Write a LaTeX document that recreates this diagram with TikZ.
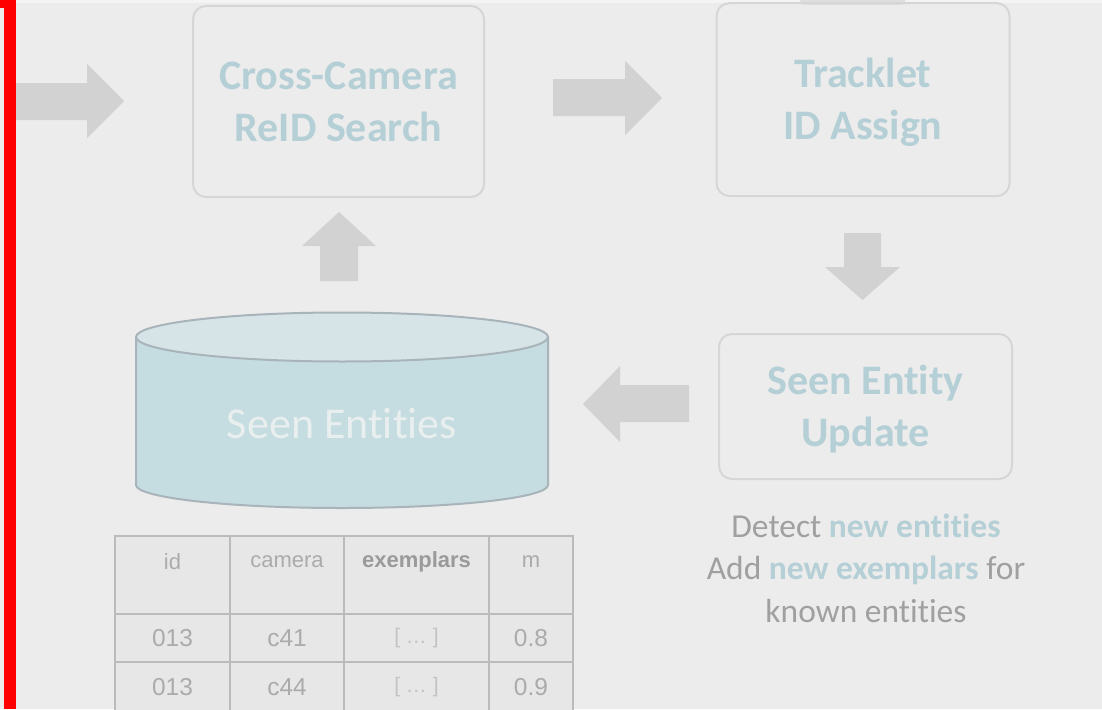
\documentclass[tikz,border=0pt]{standalone}
\usepackage{fontspec}
\setmainfont{Carlito}[Ligatures=NoCommon]
\newfontfamily\tablefont{Liberation Sans}

\definecolor{pagebg}{HTML}{ECECEC}
\definecolor{topband}{HTML}{F4F4F4}
\definecolor{boxline}{HTML}{D6D6D6}
\definecolor{titleteal}{HTML}{B4CFD5}
\definecolor{arrowgray}{HTML}{D2D2D2}
\definecolor{cylside}{HTML}{C5DDE1}
\definecolor{cyltop}{HTML}{D6E3E7}
\definecolor{cylline}{HTML}{A8B4B9}
\definecolor{cyltext}{HTML}{E9EEEF}
\definecolor{notegray}{HTML}{A0A0A0}
\definecolor{tablefill}{HTML}{E7E7E7}
\definecolor{tablegrid}{HTML}{BBBBBB}
\definecolor{celltext}{HTML}{ABABAB}
\definecolor{headbold}{HTML}{9A9A9A}
\definecolor{celllight}{HTML}{C3C3C3}
\definecolor{barred}{HTML}{FF0000}
\definecolor{faintshape}{HTML}{DEDEDE}

\newcommand{\hl}[1]{{\bfseries\color{titleteal}#1}}

\tikzset{
  stepbox/.style={draw=boxline, line width=2pt, rounded corners=13pt,
    align=center, inner sep=0pt, text=titleteal,
    font=\fontsize{42}{52}\selectfont\bfseries,
    text height=79pt, text depth=0pt},
  blockarrow/.style={fill=arrowgray},
  dbtext/.style={text=cyltext, font=\fontsize{44}{52}\selectfont,
    inner sep=0pt, text height=28.3pt, text depth=0pt},
  notetext/.style={align=center, inner sep=0pt, text=notegray,
    font=\fontsize{33.5}{42.5}\selectfont,
    text height=107pt, text depth=0pt},
  headcell/.style={inner sep=0pt, text=celltext,
    font=\tablefont\fontsize{22}{26}\selectfont},
  datacell/.style={inner sep=0pt, text=celltext,
    font=\tablefont\fontsize{24.5}{28}\selectfont},
}

\begin{document}
\begin{tikzpicture}[x=1pt, y=-1pt]
\useasboundingbox (0,0) rectangle (1102,709);
\fill[pagebg] (0,0) rectangle (1102,709);
\fill[topband] (16,0) rectangle (1102,3);
% edge of a shape running off the top
\fill[faintshape, rounded corners=4pt] (800,-8) rectangle (905,5);

% processing steps
\node[stepbox, minimum width=291pt, minimum height=191pt] (reid) at (338.5,101.5) {Cross-Camera\\ReID Search};
\node[stepbox, minimum width=293pt, minimum height=193pt] (assign) at (863,99.6) {Tracklet\\ID Assign};
\node[stepbox, minimum width=293pt, minimum height=145pt] (update) at (865.5,406.5) {Seen Entity\\Update};

% block arrows between the steps
\fill[blockarrow] (16,83) -- (87,83) -- (87,64) -- (124,101) -- (87,138) -- (87,120) -- (16,120) -- cycle;
\fill[blockarrow] (553,79) -- (625,79) -- (625,61) -- (662,98) -- (625,135) -- (625,116) -- (553,116) -- cycle;
\fill[blockarrow] (844,233) -- (881,233) -- (881,267) -- (900,267) -- (862.5,300) -- (825,267) -- (844,267) -- cycle;
\fill[blockarrow] (689,385) -- (620,385) -- (620,366) -- (583,404) -- (620,442) -- (620,422) -- (689,422) -- cycle;
\fill[blockarrow] (320,281) -- (320,246) -- (302,246) -- (339,212) -- (376,246) -- (358,246) -- (358,281) -- cycle;

% entity store cylinder
\fill[cylside] (136,337) -- (136,485) arc[start angle=180, end angle=360, x radius=206pt, y radius=23pt] -- (548,337) -- cycle;
\draw[cylline, line width=2pt] (136,337) -- (136,485) arc[start angle=180, end angle=360, x radius=206pt, y radius=23pt] -- (548,337);
\filldraw[fill=cyltop, draw=cylline, line width=2pt] (342,337) ellipse[x radius=206pt, y radius=24.5pt];
\node[dbtext] (db) at (342,424) {Seen Entities};

% note under the update step
\node[notetext] (note) at (866,568.5) {Detect \hl{new entities}\\Add \hl{new exemplars} for\\known entities};

% entity table
\fill[tablefill] (115,536) rectangle (573,712);
\draw[tablegrid, line width=1.2pt] (115,712) -- (115,536) -- (573,536) -- (573,712);
\draw[tablegrid, line width=1.2pt] (115,614) -- (573,614) (115,662) -- (573,662);
\draw[tablegrid, line width=1.2pt] (230,536) -- (230,712) (344,536) -- (344,712) (489,536) -- (489,712);

\node[headcell] (h-id) at (172.5,562) {id};
\node[headcell] (h-cam) at (287,562) {camera};
\node[headcell, text=headbold, font=\tablefont\bfseries\fontsize{22}{26}\selectfont] (h-ex) at (416.5,562) {exemplars};
\node[headcell] (h-m) at (531,562) {m};

\node[datacell] (r1-id) at (172.5,638) {013};
\node[datacell] (r1-cam) at (287,638) {c41};
\node[datacell, text=celllight, font=\tablefont\fontsize{21}{24}\selectfont] (r1-ex) at (416.5,638) {[ … ]};
\node[datacell] (r1-m) at (531,638) {0.8};

\node[datacell] (r2-id) at (172.5,687) {013};
\node[datacell] (r2-cam) at (287,687) {c44};
\node[datacell, text=celllight, font=\tablefont\fontsize{21}{24}\selectfont] (r2-ex) at (416.5,687) {[ … ]};
\node[datacell] (r2-m) at (531,687) {0.9};

% red margin bar
\fill[barred] (4,0) rectangle (16,709);
\fill[barred] (0,0) rectangle (16,8);
\end{tikzpicture}
\end{document}
